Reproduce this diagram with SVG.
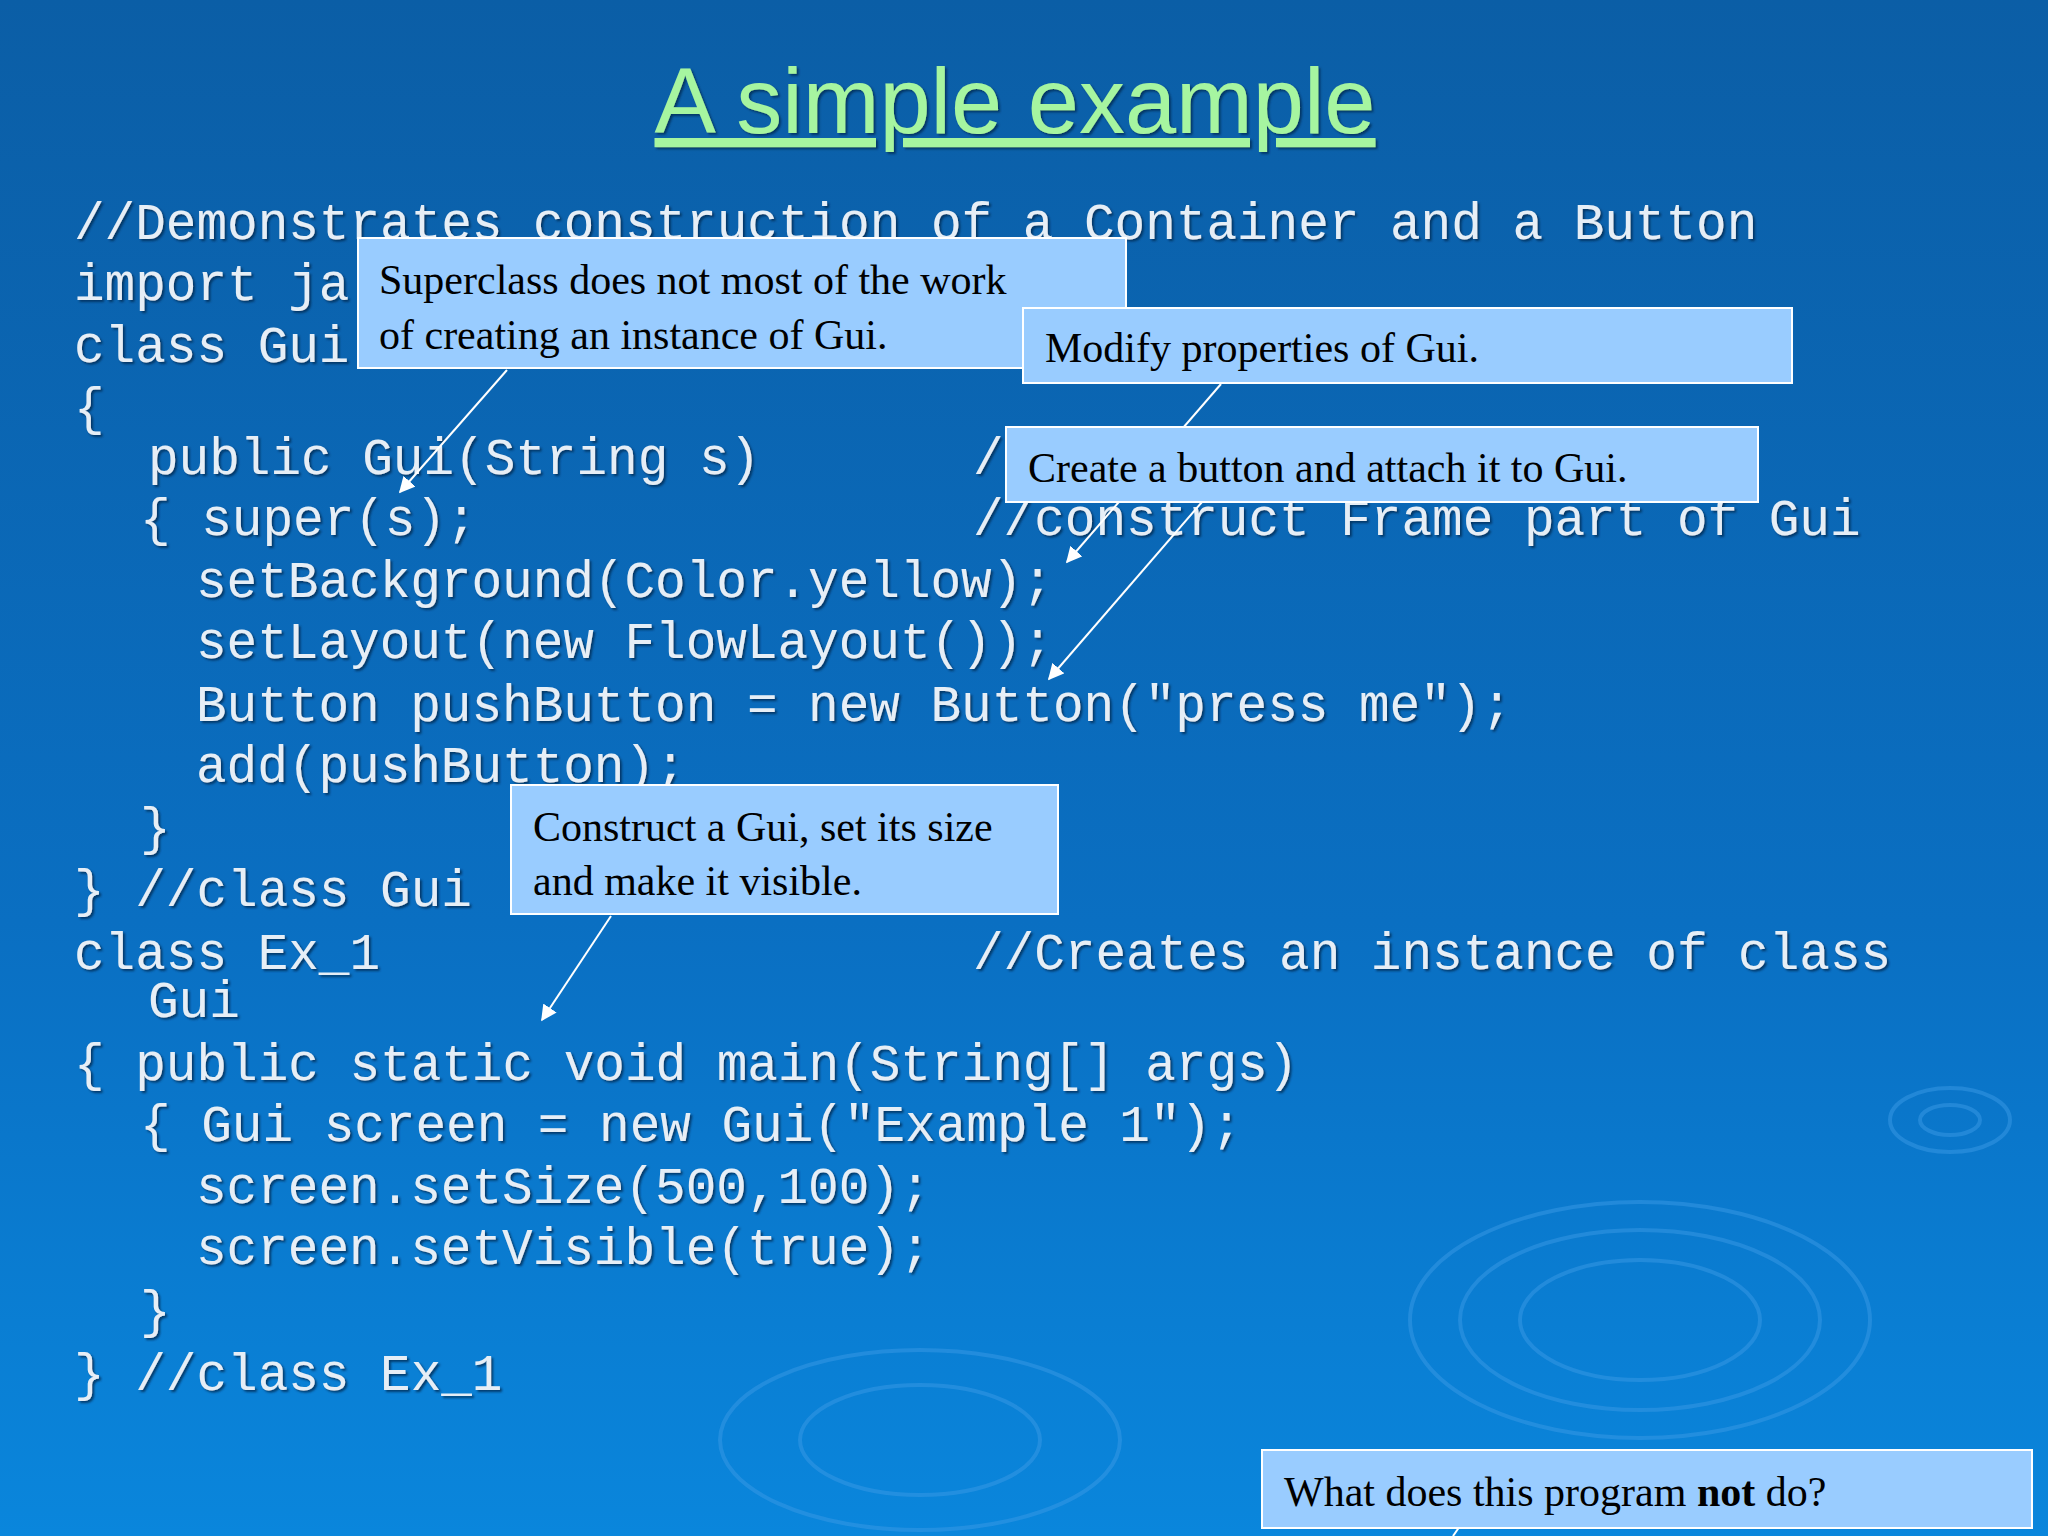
<svg xmlns="http://www.w3.org/2000/svg" width="2048" height="1536" viewBox="0 0 2048 1536">
<defs>
<linearGradient id="bg" x1="0" y1="0" x2="0" y2="1">
<stop offset="0" stop-color="#0b5ea6"/><stop offset="0.6" stop-color="#0a6fc2"/><stop offset="1" stop-color="#0a86dc"/>
</linearGradient>
<marker id="ah" viewBox="0 0 10 10" refX="9" refY="5" markerWidth="8" markerHeight="8" orient="auto-start-reverse"><path d="M0,0 L10,5 L0,10 z" fill="#ffffff"/></marker>
<filter id="sh"><feDropShadow dx="2" dy="2" stdDeviation="0.8" flood-color="#002a55" flood-opacity="0.8"/></filter>
</defs>
<style>
.code{font-family:"Liberation Mono",monospace;font-size:51px;fill:#e6eef6;filter:url(#sh)}
.box{fill:#99ccff;stroke:#ffffff;stroke-width:2}
.lbl{font-family:"Liberation Serif",serif;font-size:42px;fill:#000}
.arr{stroke:#ffffff;stroke-width:2;fill:none;marker-end:url(#ah)}
.rip{fill:none;stroke:#3a9ae6;stroke-width:4;opacity:0.5}
</style>
<rect width="2048" height="1536" fill="url(#bg)"/>
<g>
<ellipse class="rip" cx="1640" cy="1320" rx="180" ry="90"/>
<ellipse class="rip" cx="1640" cy="1320" rx="120" ry="60"/>
<ellipse class="rip" cx="1640" cy="1320" rx="230" ry="118"/>
<ellipse class="rip" cx="1950" cy="1120" rx="60" ry="32"/>
<ellipse class="rip" cx="1950" cy="1120" rx="30" ry="15"/>
<ellipse class="rip" cx="920" cy="1440" rx="200" ry="90"/>
<ellipse class="rip" cx="920" cy="1440" rx="120" ry="55"/>
</g>
<text x="1015" y="133" text-anchor="middle" font-family="Liberation Sans,Arial,sans-serif" font-size="92" fill="#a6f5a0" text-decoration="underline" filter="url(#sh)">A simple example</text>
<g id="code">
<text class="code" x="74" y="239">//Demonstrates construction of a Container and a Button</text>
<text class="code" x="74" y="300">import ja</text>
<text class="code" x="74" y="362">class Gui</text>
<text class="code" x="74" y="424">{</text>
<text class="code" x="148" y="474">public Gui(String s)</text>
<text class="code" x="973" y="474">/</text>
<text class="code" x="140" y="535">{ super(s);</text>
<text class="code" x="973" y="535">//construct Frame part of Gui</text>
<text class="code" x="196" y="597">setBackground(Color.yellow);</text>
<text class="code" x="196" y="658">setLayout(new FlowLayout());</text>
<text class="code" x="196" y="721">Button pushButton = new Button("press me");</text>
<text class="code" x="196" y="782">add(pushButton);</text>
<text class="code" x="140" y="844">}</text>
<text class="code" x="74" y="906">} //class Gui</text>
<text class="code" x="74" y="969">class Ex_1</text>
<text class="code" x="973" y="969">//Creates an instance of class</text>
<text class="code" x="148" y="1017">Gui</text>
<text class="code" x="74" y="1080">{ public static void main(String[] args)</text>
<text class="code" x="140" y="1141">{ Gui screen = new Gui("Example 1");</text>
<text class="code" x="196" y="1203">screen.setSize(500,100);</text>
<text class="code" x="196" y="1264">screen.setVisible(true);</text>
<text class="code" x="140" y="1327">}</text>
<text class="code" x="74" y="1390">} //class Ex_1</text>
</g>
<g id="connectors">
<line class="arr" x1="507" y1="370" x2="400" y2="492"/>
<line class="arr" x1="1221" y1="384" x2="1067" y2="562"/>
<line class="arr" x1="1202" y1="502" x2="1049" y2="679"/>
<line class="arr" x1="611" y1="916" x2="542" y2="1020"/>
<line x1="1460" y1="1526" x2="1453" y2="1536" stroke="#fff" stroke-width="2"/>
</g>
<g id="superclass">
<rect class="box" x="358" y="238" width="768" height="130"/>
<text class="lbl" x="379" y="294">Superclass does not most of the work</text>
<text class="lbl" x="379" y="349">of creating an instance of Gui.</text>
</g>
<g id="modify">
<rect class="box" x="1023" y="308" width="769" height="75"/>
<text class="lbl" x="1045" y="362">Modify properties of Gui.</text>
</g>
<g id="create">
<rect class="box" x="1006" y="427" width="752" height="75"/>
<text class="lbl" x="1028" y="482">Create a button and attach it to Gui.</text>
</g>
<g id="construct">
<rect class="box" x="511" y="785" width="547" height="129"/>
<text class="lbl" x="533" y="841">Construct a Gui, set its size</text>
<text class="lbl" x="533" y="895">and make it visible.</text>
</g>
<g id="question">
<rect class="box" x="1262" y="1450" width="770" height="78"/>
<text class="lbl" x="1284" y="1506">What does this program <tspan font-weight="bold">not</tspan> do?</text>
</g>
</svg>
